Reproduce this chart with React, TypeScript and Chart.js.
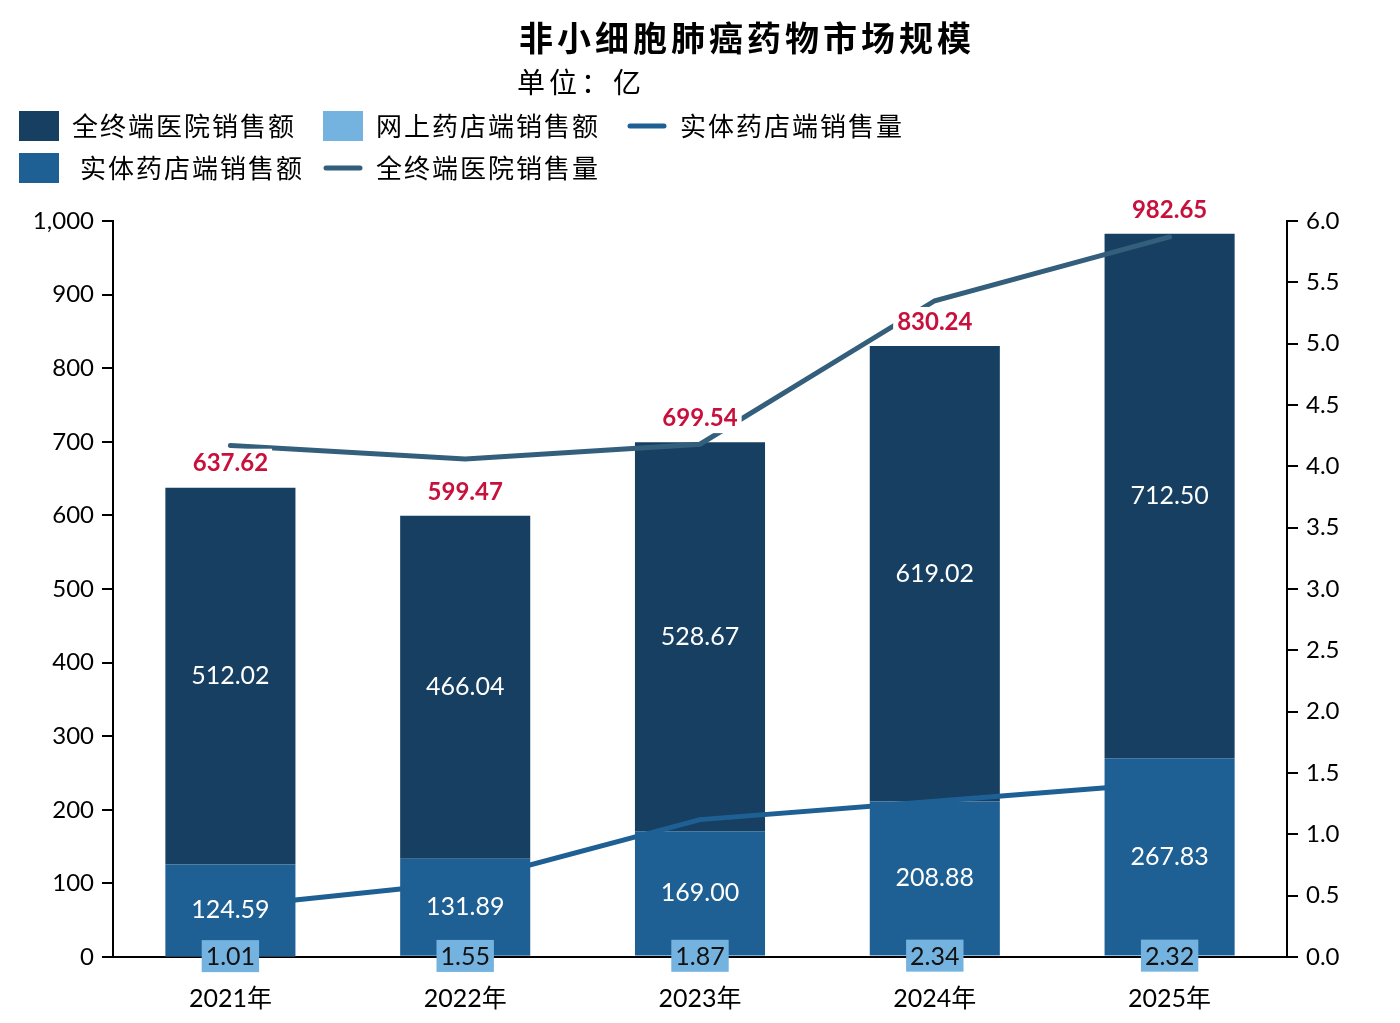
import { useEffect, useRef } from "react";
import { Chart, registerables } from "chart.js";

Chart.register(...registerables);

// ---- data ----
const years = ["2021年", "2022年", "2023年", "2024年", "2025年"];
const hospitalSales = [512.02, 466.04, 528.67, 619.02, 712.5];
const retailSales = [124.59, 131.89, 169.0, 208.88, 267.83];
const onlineSales = [1.01, 1.55, 1.87, 2.34, 2.32];
const totalSales = [637.62, 599.47, 699.54, 830.24, 982.65];
const retailVolume = [0.41, 0.61, 1.12, 1.27, 1.42];
const hospitalVolume = [4.17, 4.06, 4.18, 5.35, 5.87];

const TITLE = "非小细胞肺癌药物市场规模";
const SUBTITLE = "单位：亿";
const HOSPITAL_SALES = "全终端医院销售额";
const ONLINE_SALES = "网上药店端销售额";
const RETAIL_SALES = "实体药店端销售额";
const RETAIL_VOLUME = "实体药店端销售量";
const HOSPITAL_VOLUME = "全终端医院销售量";

const NAVY = "#163f61";
const BLUE = "#1f6094";
const LIGHT = "#74b3e0";
const SLATE = "#345f7c";
const RED = "#c8103c";

const NUM_FONT = "Lato, 'Noto Sans CJK SC', sans-serif";
const CJK_FONT = "'Noto Sans CJK SC', sans-serif";

// legend layout: [dataset label, extra indent of the text]
const legendRows: [string, number][][] = [
    [[HOSPITAL_SALES, 0], [ONLINE_SALES, 0], [RETAIL_VOLUME, 0]],
    [[RETAIL_SALES, 8], [HOSPITAL_VOLUME, 0]],
];

const labelPlugin = {
    id: "barLabels",
    afterDatasetsDraw(chart: any) {
        const ctx = chart.ctx;
        ctx.save();
        ctx.textAlign = "center";
        ctx.textBaseline = "middle";
        chart.data.datasets.forEach((ds: any, i: number) => {
            const meta = chart.getDatasetMeta(i);
            if (meta.type !== "bar") return;
            meta.data.forEach((el: any, j: number) => {
                const { x, y, base } = el.getProps(["x", "y", "base"], true);
                const cy = (y + base) / 2;
                const txt = Number(ds.data[j]).toFixed(2);
                ctx.font = `25px ${NUM_FONT}`;
                if (ds.label === ONLINE_SALES) {
                    const w = ctx.measureText(txt).width + 8;
                    ctx.fillStyle = LIGHT;
                    ctx.fillRect(x - w / 2, cy - 16, w, 32);
                    ctx.fillStyle = "#111";
                    ctx.fillText(txt, x, cy + 1);
                } else {
                    ctx.fillStyle = "#fff";
                    ctx.fillText(txt, x, cy);
                }
            });
        });

        // totals above the stacks
        const topIdx = chart.data.datasets.findIndex((d: any) => d.label === HOSPITAL_SALES);
        const topMeta = chart.getDatasetMeta(topIdx);
        ctx.font = `bold 24px ${NUM_FONT}`;
        topMeta.data.forEach((el: any, j: number) => {
            const txt = totalSales[j].toFixed(2);
            const w = ctx.measureText(txt).width + 8;
            const ty = el.y - 24;
            ctx.fillStyle = "#fff";
            ctx.fillRect(el.x - w / 2, ty - 15, w, 30);
            ctx.fillStyle = RED;
            ctx.fillText(txt, el.x, ty);
        });
        ctx.restore();
    },
};

const headerPlugin = {
    id: "header",
    afterDraw(chart: any) {
        const ctx = chart.ctx;
        ctx.save();
        ctx.fillStyle = "#000";
        ctx.textBaseline = "middle";

        ctx.textAlign = "center";
        ctx.font = `bold 34px ${CJK_FONT}`;
        ctx.letterSpacing = "4px";
        ctx.fillText(TITLE, 747, 38);

        ctx.textAlign = "left";
        ctx.font = `28px ${CJK_FONT}`;
        ctx.fillText(SUBTITLE, 517, 82);

        // legend
        ctx.font = `26px ${CJK_FONT}`;
        ctx.letterSpacing = "2px";
        const rowY = [126, 168];
        legendRows.forEach((row, r) => {
            let x = 19;
            const y = rowY[r];
            row.forEach(([name, indent]) => {
                const ds = chart.data.datasets.find((d: any) => d.label === name);
                if (ds.type === "line") {
                    ctx.strokeStyle = ds.borderColor;
                    ctx.lineWidth = 5;
                    ctx.lineCap = "round";
                    ctx.beginPath();
                    ctx.moveTo(x + 3, y);
                    ctx.lineTo(x + 37, y);
                    ctx.stroke();
                } else {
                    ctx.fillStyle = ds.backgroundColor;
                    ctx.fillRect(x, y - 15, 40, 30);
                }
                ctx.fillStyle = "#000";
                ctx.fillText(name, x + 53 + indent, y);
                x += 53 + ctx.measureText(name).width + 27;
            });
        });
        ctx.restore();
    },
};

export default function App() {
    const chartRef = useRef<HTMLCanvasElement | null>(null);
    const chartInstanceRef = useRef<Chart | null>(null);

    useEffect(() => {
        if (chartInstanceRef.current) {
            chartInstanceRef.current.destroy();
        }
        if (!chartRef.current) return;

        const tickFont = { family: NUM_FONT, size: 24 };

        chartInstanceRef.current = new Chart(chartRef.current, {
            type: "bar",
            data: {
                labels: years,
                datasets: [
                    {
                        type: "line",
                        label: HOSPITAL_VOLUME,
                        data: hospitalVolume,
                        yAxisID: "y1",
                        borderColor: SLATE,
                        backgroundColor: SLATE,
                        borderWidth: 5,
                        borderCapStyle: "round",
                        pointRadius: 0,
                        tension: 0,
                        order: 0,
                    },
                    {
                        type: "line",
                        label: RETAIL_VOLUME,
                        data: retailVolume,
                        yAxisID: "y1",
                        borderColor: BLUE,
                        backgroundColor: BLUE,
                        borderWidth: 5,
                        borderCapStyle: "round",
                        pointRadius: 0,
                        tension: 0,
                        order: 0,
                    },
                    {
                        label: ONLINE_SALES,
                        data: onlineSales,
                        backgroundColor: LIGHT,
                        stack: "s",
                        order: 1,
                    },
                    {
                        label: RETAIL_SALES,
                        data: retailSales,
                        backgroundColor: BLUE,
                        stack: "s",
                        order: 1,
                    },
                    {
                        label: HOSPITAL_SALES,
                        data: hospitalSales,
                        backgroundColor: NAVY,
                        stack: "s",
                        order: 1,
                    },
                ] as any,
            },
            options: {
                responsive: true,
                maintainAspectRatio: false,
                animation: false,
                layout: { padding: { top: 221, left: 0, right: 0, bottom: 0 } },
                datasets: {
                    bar: { barPercentage: 0.554, categoryPercentage: 1, borderWidth: 0 },
                },
                plugins: {
                    legend: { display: false },
                    title: { display: false },
                    tooltip: { enabled: false },
                },
                scales: {
                    x: {
                        stacked: true,
                        grid: { display: false },
                        border: { display: true, color: "#000", width: 2 },
                        ticks: { color: "#000", font: { family: NUM_FONT, size: 25 }, padding: 19 },
                        afterFit: (scale: any) => { scale.height = 66; },
                    },
                    y: {
                        stacked: true,
                        position: "left",
                        min: 0,
                        max: 1000,
                        ticks: {
                            stepSize: 100,
                            color: "#000",
                            font: tickFont,
                            padding: 8,
                            callback: (v: any) => Number(v).toLocaleString("en-US"),
                        },
                        grid: { drawOnChartArea: false, drawTicks: true, tickLength: 11, color: "#000", lineWidth: 2 },
                        border: { display: true, color: "#000", width: 2 },
                        afterFit: (scale: any) => { scale.width = 113; },
                    },
                    y1: {
                        stacked: false,
                        position: "right",
                        min: 0,
                        max: 6,
                        ticks: {
                            stepSize: 0.5,
                            color: "#000",
                            font: tickFont,
                            padding: 8,
                            callback: (v: any) => Number(v).toFixed(1),
                        },
                        grid: { drawOnChartArea: false, drawTicks: true, tickLength: 11, color: "#000", lineWidth: 2 },
                        border: { display: true, color: "#000", width: 2 },
                        afterFit: (scale: any) => { scale.width = 113; },
                    },
                },
            } as any,
            plugins: [labelPlugin, headerPlugin],
        });

        return () => {
            if (chartInstanceRef.current) {
                chartInstanceRef.current.destroy();
                chartInstanceRef.current = null;
            }
        };
    }, []);

    return (
        <div style={{ position: "absolute", left: 0, top: 0, width: 1400, height: 1023, background: "#fff" }}>
            <canvas ref={chartRef} />
        </div>
    );
}
